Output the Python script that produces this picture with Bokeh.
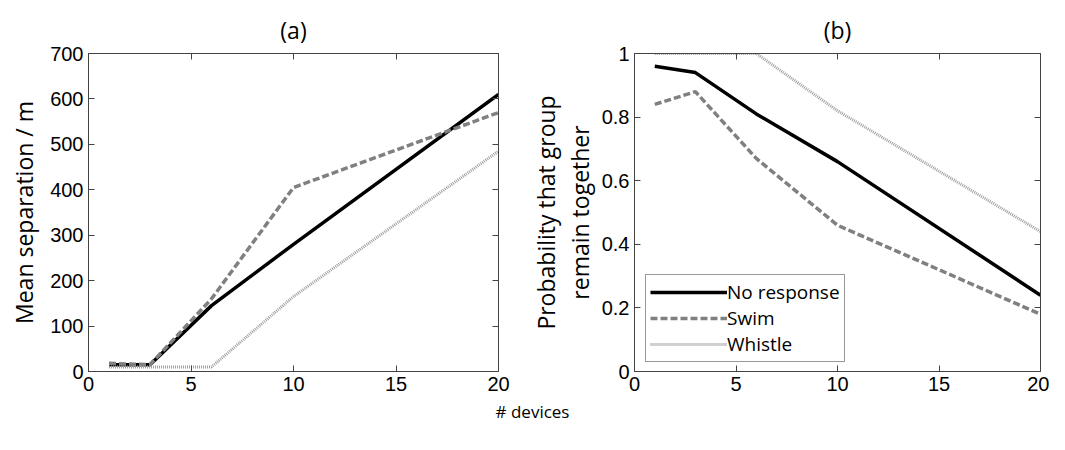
from bokeh.plotting import figure
from bokeh.models import Range1d, LinearAxis, FixedTicker, Legend, LegendItem
from bokeh.layouts import column, row
from bokeh.embed import file_html
from bokeh.resources import INLINE
from bokeh.core.properties import value

# ---- data ----
devices = [1, 3, 6, 10, 20]
sep_no_response = [15, 15, 145, 280, 610]
sep_swim = [18, 15, 160, 405, 570]
sep_whistle = [10, 10, 10, 165, 485]
prob_no_response = [0.96, 0.94, 0.81, 0.66, 0.24]
prob_swim = [0.84, 0.88, 0.67, 0.46, 0.18]
prob_whistle = [1.0, 1.0, 1.0, 0.82, 0.44]
x_ticks = [0, 5, 10, 15, 20]
sep_ticks = [0, 100, 200, 300, 400, 500, 600, 700]
prob_ticks = [0, 0.2, 0.4, 0.6, 0.8, 1]
series_names = ["No response", "Swim", "Whistle"]
panel_titles = ["(a)", "(b)"]

TICK_FONT = "Liberation Sans"
TEXT_FONT = "Open Sans"
AXIS_COLOR = "#444444"


def make_fig(width, yrange, yticks, title, border_left, border_right, ylabel):
    p = figure(width=width, height=399, output_backend="svg", toolbar_location=None,
               x_range=Range1d(0, 20), y_range=Range1d(*yrange),
               min_border_left=border_left, min_border_right=border_right,
               min_border_top=53, min_border_bottom=28)
    p.grid.visible = False
    p.outline_line_color = None
    p.background_fill_color = "white"
    p.title.text = title
    p.title.align = "center"
    p.title.text_font = TEXT_FONT
    p.title.text_font_size = "23px"
    p.title.text_font_style = "normal"
    p.title.text_color = "black"
    p.title.standoff = 16
    p.xaxis.ticker = FixedTicker(ticks=x_ticks)
    p.yaxis.ticker = FixedTicker(ticks=yticks)
    # frame box: top / right axes carry tick marks only (as minor ticks, no labels)
    top = LinearAxis(ticker=FixedTicker(ticks=[], minor_ticks=x_ticks))
    right = LinearAxis(ticker=FixedTicker(ticks=[], minor_ticks=yticks))
    p.add_layout(top, "above")
    p.add_layout(right, "right")
    for ax in p.axis:
        ax.major_tick_in = 6
        ax.major_tick_out = 0
        ax.minor_tick_in = 0
        ax.minor_tick_out = 0
        ax.minor_tick_line_color = None
        ax.axis_line_color = AXIS_COLOR
        ax.major_tick_line_color = AXIS_COLOR
        ax.major_label_text_font = TICK_FONT
        ax.major_label_text_font_size = "20px"
        ax.major_label_text_color = "black"
        ax.major_label_standoff = 5
    for ax in (top, right):
        ax.minor_tick_in = 6
        ax.minor_tick_out = 0
        ax.minor_tick_line_color = AXIS_COLOR
        ax.major_label_standoff = 0
    yl = p.left[0]
    yl.axis_label = ylabel
    yl.axis_label_text_font = TEXT_FONT
    yl.axis_label_text_font_size = "23px"
    yl.axis_label_text_font_style = "normal"
    yl.axis_label_text_color = "black"
    return p


p1 = make_fig(522, (0, 700), sep_ticks, panel_titles[0], 88, 24, "Mean separation / m")
p1.left[0].axis_label_standoff = 7
p2 = make_fig(527, (0, 1), prob_ticks, panel_titles[1], 112, 9,
              "Probability that group\nremain together")
p2.left[0].axis_label_standoff = 3
p2.left[0].axis_label_text_line_height = 1.05
p2.left[0].major_label_overrides = {0: "0", 1: "1"}

styles = [
    dict(line_color="black", line_width=3.5),
    dict(line_color="#808080", line_width=3.5, line_dash="7 3"),
    dict(line_color="#a0a0a0", line_width=3, line_dash="1 1"),
]

for vals, st in zip([sep_no_response, sep_swim, sep_whistle], styles):
    p1.line(devices, vals, **st)

renderers = []
for vals, st in zip([prob_no_response, prob_swim, prob_whistle], styles):
    renderers.append(p2.line(devices, vals, **st))

legend = Legend(items=[LegendItem(label=n, renderers=[r]) for n, r in zip(series_names, renderers)],
                location=(11, 9), orientation="vertical")
legend.label_text_font = TEXT_FONT
legend.label_text_font_size = "19px"
legend.label_text_color = "black"
legend.glyph_width = 77
legend.glyph_height = 24
legend.label_height = 24
legend.label_standoff = 0
legend.spacing = 0
legend.padding = 4
legend.margin = 0
legend.border_line_color = "#333333"
legend.border_line_width = 1
legend.background_fill_color = "white"
legend.background_fill_alpha = 1
p2.add_layout(legend, "center")

p3 = figure(width=1049, height=34, output_backend="svg", toolbar_location=None,
            x_range=Range1d(0, 1049), y_range=Range1d(0, 34),
            x_axis_type=None, y_axis_type=None,
            min_border=0, min_border_left=0, min_border_right=0,
            min_border_top=0, min_border_bottom=0)
p3.grid.visible = False
p3.outline_line_color = None
p3.text(x=[532], y=[22], text=["# devices"], text_font=value(TEXT_FONT),
        text_font_size="17px", text_align="center", text_baseline="middle",
        text_color="black")

layout = column(row(p1, p2), p3)
open("out.html", "w").write(file_html(layout, INLINE))
